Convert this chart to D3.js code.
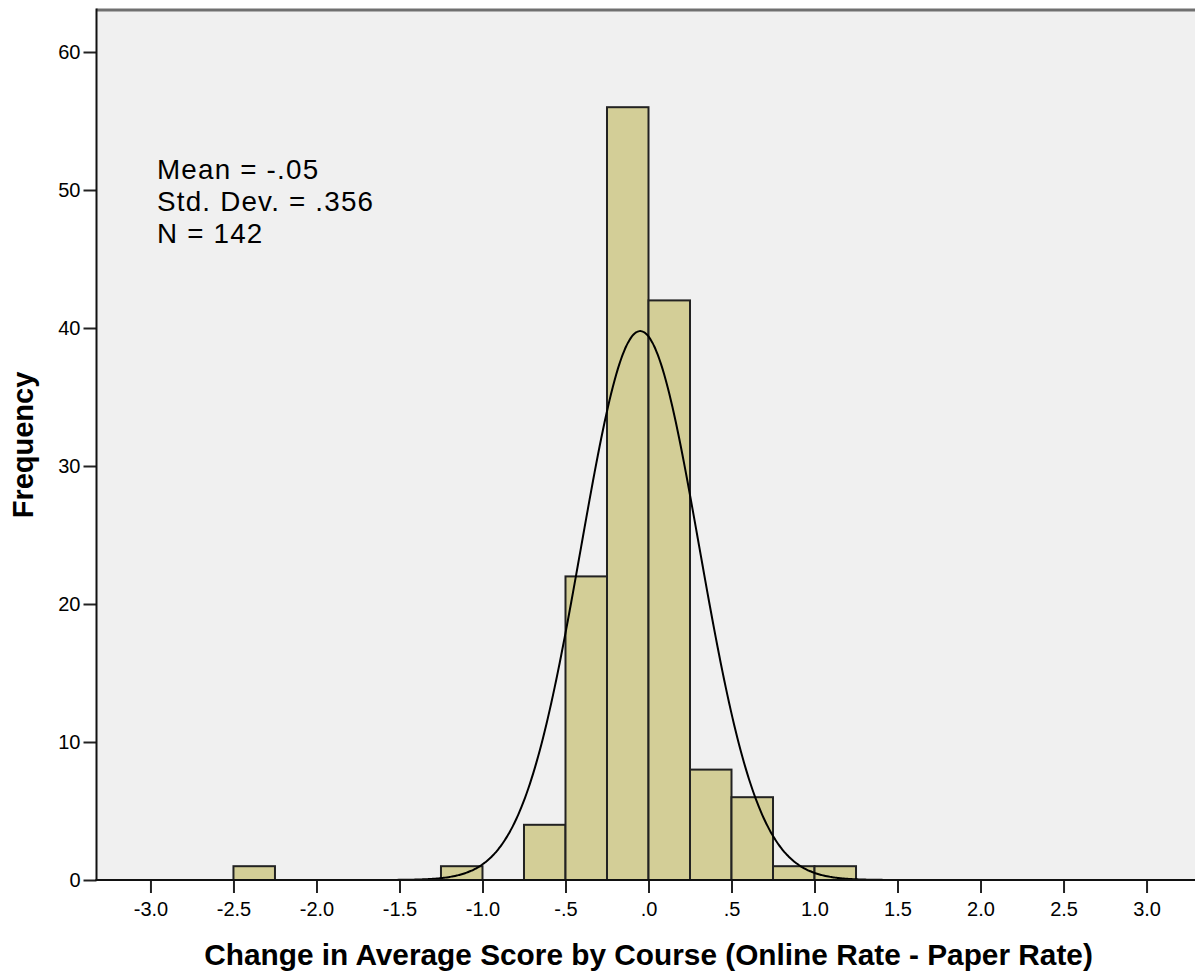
<!DOCTYPE html>
<html>
<head>
<meta charset="utf-8">
<script src="https://cdn.jsdelivr.net/npm/d3@7"></script>
<style>
  html, body { margin: 0; padding: 0; background: #ffffff; }
  svg { display: block; }
  text { font-family: "Liberation Sans", Arial, sans-serif; fill: #000; }
</style>
</head>
<body>
<svg id="chart" width="1195" height="971"></svg>
<script>
// ---------- data ----------
const binStarts = [-2.5, -1.25, -0.75, -0.5, -0.25, 0.0, 0.25, 0.5, 0.75, 1.0];
const binCounts = [1, 1, 4, 22, 56, 42, 8, 6, 1, 1];
const binWidth = 0.25;

const statMean = -0.05;
const statSD = 0.356;
const statN = 142;
const statLines = ["Mean = -.05", "Std. Dev. = .356", "N = 142"];

const xTickValues = [-3.0, -2.5, -2.0, -1.5, -1.0, -0.5, 0.0, 0.5, 1.0, 1.5, 2.0, 2.5, 3.0];
const xTickLabels = ["-3.0", "-2.5", "-2.0", "-1.5", "-1.0", "-.5", ".0", ".5", "1.0", "1.5", "2.0", "2.5", "3.0"];
const yTickValues = [0, 10, 20, 30, 40, 50, 60];
const yTickLabels = ["0", "10", "20", "30", "40", "50", "60"];

const xTitle = "Change in Average Score by Course (Online Rate - Paper Rate)";
const yTitle = "Frequency";

// ---------- layout ----------
const svg = d3.select("#chart");
const plotLeft = 96.5, plotRight = 1200.5, plotTop = 10, plotBottom = 880;

const x = d3.scaleLinear().domain([-3.325, 3.325]).range([plotLeft, plotRight]);
const y = d3.scaleLinear().domain([0, 60]).range([plotBottom, 52]);

// plot background
svg.append("rect")
  .attr("x", plotLeft).attr("y", plotTop)
  .attr("width", plotRight - plotLeft).attr("height", plotBottom - plotTop)
  .attr("fill", "#f0f0f0");

// bars
const bins = binStarts.map((s, i) => ({ x0: s, x1: s + binWidth, count: binCounts[i] }));
svg.append("g").selectAll("rect").data(bins).join("rect")
  .attr("x", d => x(d.x0))
  .attr("y", d => y(d.count))
  .attr("width", d => x(d.x1) - x(d.x0))
  .attr("height", d => y(0) - y(d.count))
  .attr("fill", "#d3ce97")
  .attr("stroke", "#222")
  .attr("stroke-width", 2);

// normal curve (fitted from the displayed statistics)
const clipId = "plotclip";
svg.append("clipPath").attr("id", clipId).append("rect")
  .attr("x", plotLeft).attr("y", plotTop)
  .attr("width", plotRight - plotLeft).attr("height", plotBottom - plotTop);

const curveXs = d3.range(-3.325, 3.33, 0.01);
const density = v => statN * binWidth / (statSD * Math.sqrt(2 * Math.PI)) *
  Math.exp(-0.5 * Math.pow((v - statMean) / statSD, 2));
const line = d3.line().x(v => x(v)).y(v => y(density(v))).curve(d3.curveBasis);
svg.append("path")
  .attr("d", line(curveXs))
  .attr("fill", "none")
  .attr("stroke", "#000")
  .attr("stroke-width", 2)
  .attr("clip-path", `url(#${clipId})`);

// axes
const xAxis = d3.axisBottom(x)
  .tickValues(xTickValues)
  .tickFormat((d, i) => xTickLabels[i])
  .tickSize(13).tickSizeOuter(0).tickPadding(9);
const gx = svg.append("g").attr("transform", `translate(0,${plotBottom})`).call(xAxis);
gx.select(".domain").remove();
gx.selectAll(".tick line").attr("stroke", "#222").attr("stroke-width", 2);
gx.selectAll(".tick text").style("font-size", "20px").style("font-family", '"Liberation Sans", Arial, sans-serif').attr("fill", "#111");

const yAxis = d3.axisLeft(y)
  .tickValues(yTickValues)
  .tickFormat((d, i) => yTickLabels[i])
  .tickSize(13).tickSizeOuter(0).tickPadding(3);
const gy = svg.append("g").attr("transform", `translate(${plotLeft},0)`).call(yAxis);
gy.select(".domain").remove();
gy.selectAll(".tick line").attr("stroke", "#222").attr("stroke-width", 2);
gy.selectAll(".tick text").style("font-size", "20px").style("font-family", '"Liberation Sans", Arial, sans-serif').attr("fill", "#111");

// frame lines
svg.append("line")
  .attr("x1", plotLeft).attr("x2", plotRight).attr("y1", plotTop).attr("y2", plotTop)
  .attr("stroke", "#707070").attr("stroke-width", 3);
svg.append("line")
  .attr("x1", plotLeft).attr("x2", plotLeft).attr("y1", plotTop - 1.5).attr("y2", plotBottom + 1)
  .attr("stroke", "#111").attr("stroke-width", 2);
svg.append("line")
  .attr("x1", plotLeft - 1).attr("x2", plotRight).attr("y1", plotBottom).attr("y2", plotBottom)
  .attr("stroke", "#111").attr("stroke-width", 2);

// statistics text
svg.append("g").selectAll("text").data(statLines).join("text")
  .attr("x", 157)
  .attr("y", (d, i) => 179 + i * 32)
  .style("font-size", "27.8px")
  .style("letter-spacing", "1.2px")
  .attr("fill", "#1a1a1a")
  .text(d => d);

// axis titles
svg.append("text")
  .attr("x", (plotLeft + plotRight) / 2)
  .attr("y", 965)
  .attr("text-anchor", "middle")
  .style("font-size", "29.8px")
  .style("font-weight", "bold")
  .text(xTitle);

svg.append("text")
  .attr("transform", "translate(33,445) rotate(-90)")
  .attr("text-anchor", "middle")
  .style("font-size", "29px")
  .style("font-weight", "bold")
  .text(yTitle);
</script>
</body>
</html>
